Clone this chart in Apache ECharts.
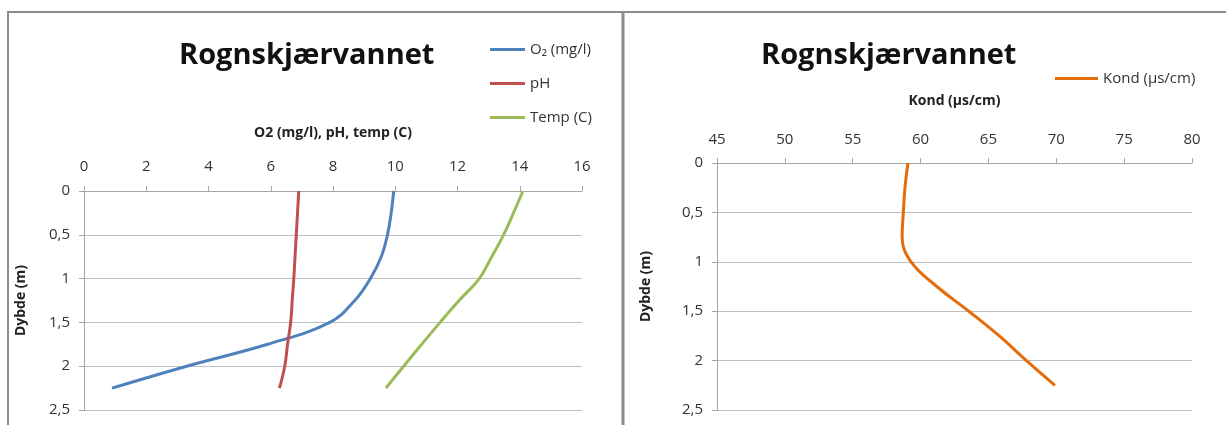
<!DOCTYPE html>
<html>
<head>
<meta charset="utf-8">
<script src="https://cdn.jsdelivr.net/npm/echarts@6/dist/echarts.min.js"></script>
<style>
  html, body { margin: 0; padding: 0; background: #fff; }
  #chart { width: 1226px; height: 425px; }
</style>
</head>
<body>
<div id="chart"></div>
<script>
// dybde (m), same depths for every series
var depth = [0, 0.25, 0.5, 0.75, 1, 1.25, 1.5, 1.75, 2, 2.25];
var o2 = [9.95, 9.87, 9.75, 9.55, 9.2, 8.7, 7.9, 5.9, 3.3, 0.9];
var ph = [6.9, 6.86, 6.82, 6.78, 6.74, 6.69, 6.64, 6.54, 6.45, 6.28];
var temp = [14.1, 13.8, 13.48, 13.1, 12.7, 12.05, 11.44, 10.85, 10.27, 9.7];
var kond = [59.07, 58.85, 58.73, 58.64, 59.3, 61.2, 63.55, 65.8, 67.8, 69.9];

var seriesNames = ["O\u2082 (mg/l)", "pH", "Temp (C)", "Kond (\u00b5s/cm)"];
var colors = ["#4f81bd", "#c0504d", "#9bbb59", "#e46c0a"];

function pairs(vals) {
    var out = [];
    for (var i = 0; i < vals.length; i++) {
        out.push([vals[i], depth[i]]);
    }
    return out;
}

function comma(v) {
    return String(v).replace(".", ",");
}

var font = "'Open Sans', 'Noto Sans', sans-serif";
var gray = "#a6a6a6";

function xAx(idx, min, max, interval, name, gap, margin) {
    return {
        gridIndex: idx, type: "value", position: "top",
        min: min, max: max, interval: interval,
        name: name, nameLocation: "middle", nameGap: gap,
        nameTextStyle: { fontFamily: font, fontWeight: "bold", fontSize: 14, color: "#222" },
        axisLine: { show: true, lineStyle: { color: gray, width: 1 } },
        axisTick: { show: true, length: 5, lineStyle: { color: gray } },
        axisLabel: { fontFamily: font, fontSize: 15, color: "#333", margin: margin },
        splitLine: { show: false }
    };
}

function yAx(idx, gap) {
    return {
        gridIndex: idx, type: "value", inverse: true,
        min: 0, max: 2.5, interval: 0.5,
        name: "Dybde (m)", nameLocation: "middle", nameGap: gap,
        nameTextStyle: { fontFamily: font, fontWeight: "bold", fontSize: 14, color: "#222" },
        axisLine: { show: true, lineStyle: { color: gray, width: 1 } },
        axisTick: { show: true, length: 5, lineStyle: { color: gray } },
        axisLabel: { fontFamily: font, fontSize: 15, color: "#333", margin: 14, formatter: comma },
        splitLine: { show: true, lineStyle: { color: "#bfbfbf", width: 1 } }
    };
}

function line(name, vals, color, xi) {
    return {
        name: name, type: "line", xAxisIndex: xi, yAxisIndex: xi,
        data: pairs(vals), smooth: 0.4, showSymbol: false,
        lineStyle: { color: color, width: 3 }, itemStyle: { color: color },
        animation: false
    };
}

var titleStyle = { fontFamily: font, fontWeight: "bold", fontSize: 29, color: "#111" };
var legendText = { fontFamily: font, fontSize: 15, color: "#333" };

var chart = echarts.init(document.getElementById("chart"));
chart.setOption({
    animation: false,
    title: [
        { text: "Rognskj\u00e6rvannet", left: 174, top: 36, textStyle: titleStyle },
        { text: "Rognskj\u00e6rvannet", left: 756, top: 36, textStyle: titleStyle }
    ],
    legend: [
        {
            data: seriesNames.slice(0, 3), orient: "vertical", left: 485, top: 37,
            icon: "rect", itemWidth: 35, itemHeight: 3, itemGap: 19, itemTextGap: 3,
            textStyle: legendText
        },
        {
            data: [seriesNames[3]], orient: "vertical", left: 1050, top: 66,
            icon: "rect", itemWidth: 43, itemHeight: 3, itemTextGap: 3,
            textStyle: legendText
        }
    ],
    grid: [
        { left: 84, top: 191, width: 498, height: 219 },
        { left: 717, top: 163, width: 475, height: 247 }
    ],
    xAxis: [
        xAx(0, 0, 16, 2, "O2 (mg/l), pH, temp (C)", 51, 17),
        xAx(1, 45, 80, 5, "Kond (\u00b5s/cm)", 55, 16)
    ],
    yAxis: [yAx(0, 56), yAx(1, 64)],
    series: [
        line(seriesNames[0], o2, colors[0], 0),
        line(seriesNames[1], ph, colors[1], 0),
        line(seriesNames[2], temp, colors[2], 0),
        line(seriesNames[3], kond, colors[3], 1)
    ],
    graphic: [
        { type: "polyline", shape: { points: [[8, 425], [8, 12], [1226, 12]] }, style: { stroke: "#8c8c8c", lineWidth: 2, fill: null } },
        { type: "line", shape: { x1: 623, y1: 12, x2: 623, y2: 425 }, style: { stroke: "#8c8c8c", lineWidth: 3 } }
    ]
});
</script>
</body>
</html>
